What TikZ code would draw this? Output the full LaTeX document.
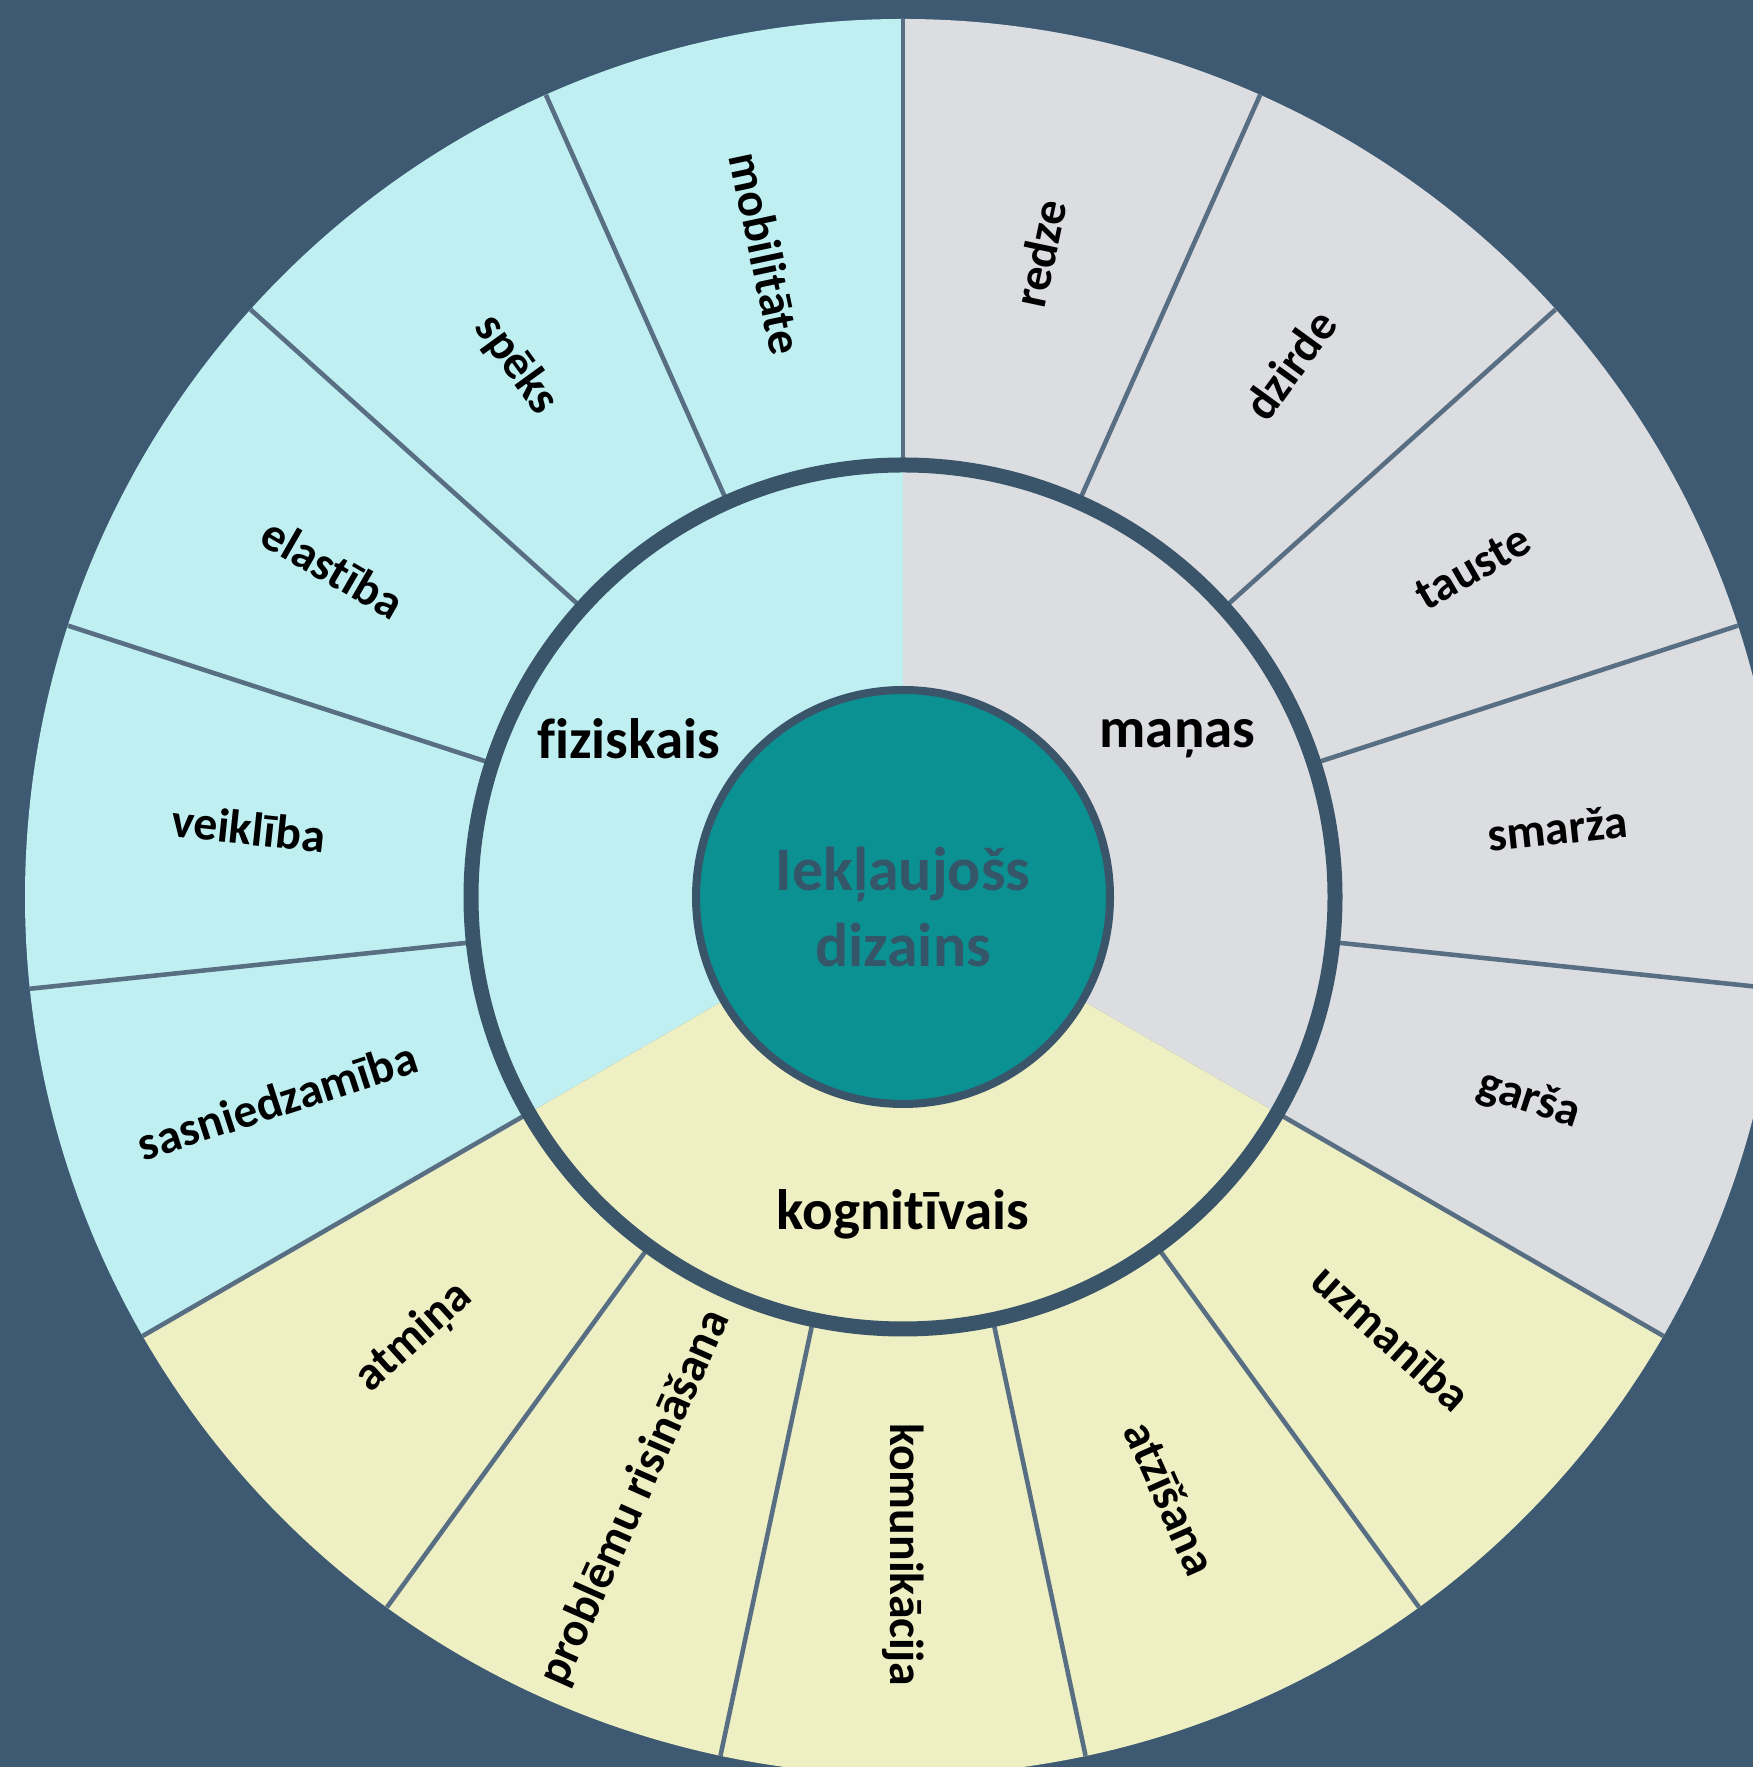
\documentclass[tikz,border=0pt]{standalone}
\usepackage{fontspec}
\setmainfont{Carlito}[Ligatures={NoCommon}]
\definecolor{SlateBg}{RGB}{62, 90, 114}
\definecolor{RingLine}{RGB}{58, 84, 106}
\definecolor{Divider}{RGB}{88, 110, 131}
\definecolor{PhysCyan}{RGB}{192, 239, 242}
\definecolor{SenseGray}{RGB}{220, 221, 225}
\definecolor{CogYellow}{RGB}{238, 240, 196}
\definecolor{CoreTeal}{RGB}{12, 145, 146}
\definecolor{CoreText}{RGB}{52, 86, 104}
\usetikzlibrary{positioning, calc}

\begin{document}
\begin{tikzpicture}[
    sublabel/.style={font=\fontsize{13.6}{16}\selectfont\bfseries, inner sep=0pt},
    grouplabel/.style={font=\fontsize{16.2}{19}\selectfont\bfseries, inner sep=0pt},
    divider/.style={draw=Divider, line width=1.3pt}]
    \useasboundingbox (0,0) rectangle (17.53,17.67);
    \clip (0,0) rectangle (17.53,17.67);
    \fill[SlateBg] (0,0) rectangle (17.53,17.67);
    \coordinate (c) at (9.03,8.70);

    % three groups
    \fill[PhysCyan] (c) -- ($(c)+(90:8.78)$) arc[start angle=90, end angle=210, radius=8.78] -- cycle;
    \fill[SenseGray] (c) -- ($(c)+(-30:8.78)$) arc[start angle=-30, end angle=90, radius=8.78] -- cycle;
    \fill[CogYellow] (c) -- ($(c)+(210:8.78)$) arc[start angle=210, end angle=330, radius=8.78] -- cycle;

    \foreach \k in {0,...,14}
        \draw[divider] ($(c)+(90-24*\k:4.32)$) -- ($(c)+(90-24*\k:8.78)$);

    \draw[RingLine, line width=0.15cm] (c) circle[radius=4.32];
    \node[circle, fill=CoreTeal, draw=RingLine, line width=0.08cm, minimum size=4.14cm, inner sep=0pt] (core) at (c) {};
    \node[font=\fontsize{17.6}{21.5}\selectfont\bfseries, text=CoreText, align=center, inner sep=0pt] (title) at ($(c)+(0,-0.1)$) {Iekļaujošs\\dizains};

    \node[grouplabel] (fiz) at ($(c)+(150:3.17)$) {fiziskais};
    \node[grouplabel] (man) at ($(c)+(30:3.17)$) {maņas};
    \node[grouplabel] (kog) at ($(c)+(-90:3.17)$) {kognitīvais};

    \foreach \ang/\rot/\txt [count=\i] in {102/-78/mobilitāte, 126/-54/spēks, 150/-30/elastība, 174/-6/veiklība, 198/18/sasniedzamība,
        78/78/redze, 54/54/dzirde, 30/30/tauste, 6/6/smarža, -18/-18/garša,
        -42/-42/uzmanība, -66/-66/atzīšana, -90/-90/komunikācija, -114/66/problēmu risināšana, -138/42/atmiņa}
        \node[sublabel, rotate=\rot] (sub\i) at ($(c)+(\ang:6.58)$) {\txt};
\end{tikzpicture}
\end{document}
